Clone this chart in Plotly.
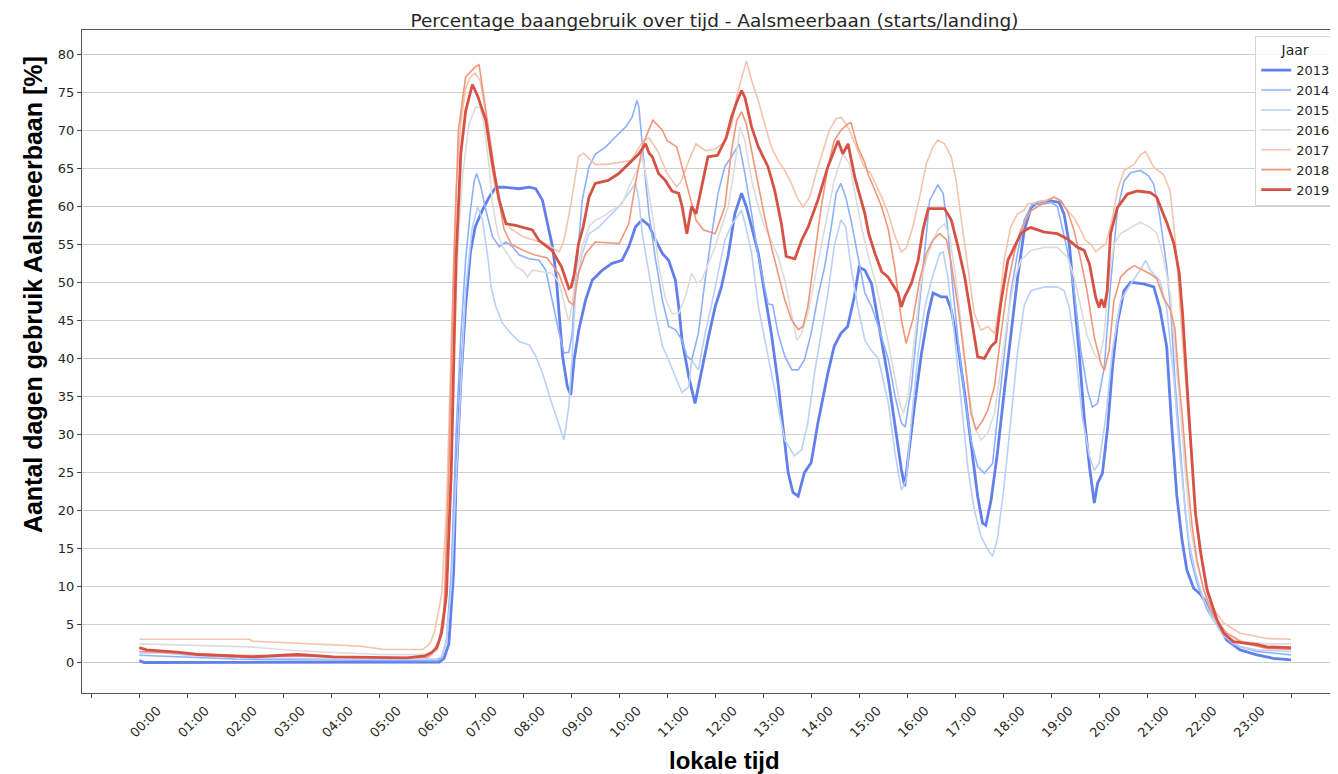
import plotly.graph_objects as go

# ---------------- data (hours since 00:00, percentage) ----------------
hours_2013 = [0, 0.1, 6.25, 6.35, 6.45, 6.55, 6.6, 6.7, 6.8, 6.9, 7.0, 7.15, 7.29, 7.43, 7.6, 7.92, 8.12, 8.26, 8.4, 8.5,
              8.61, 8.68, 8.75, 8.82, 8.92, 8.99, 9.06, 9.16, 9.3, 9.44, 9.65, 9.85, 10.06, 10.2, 10.34, 10.48, 10.62,
              10.76, 10.9, 11.03, 11.17, 11.24, 11.31, 11.45, 11.58, 11.72, 11.86, 12.0, 12.13, 12.27, 12.41, 12.55,
              12.65, 12.76, 12.9, 13.03, 13.17, 13.31, 13.41, 13.52, 13.62, 13.73, 13.86, 14.0, 14.14, 14.35, 14.48,
              14.62, 14.76, 14.9, 15.0, 15.12, 15.26, 15.35, 15.47, 15.61, 15.75, 15.88, 15.95, 16.02, 16.16, 16.3,
              16.44, 16.54, 16.71, 16.82, 16.92, 17.06, 17.2, 17.33, 17.47, 17.57, 17.64, 17.75, 17.88, 18.02, 18.16,
              18.3, 18.44, 18.58, 18.72, 19.0, 19.17, 19.27, 19.38, 19.48, 19.58, 19.69, 19.8, 19.9, 19.97, 20.07,
              20.18, 20.28, 20.38, 20.52, 20.66, 20.93, 21.14, 21.27, 21.41, 21.51, 21.62, 21.73, 21.83, 21.97, 22.1,
              22.25, 22.46, 22.66, 22.94, 23.29, 23.63, 24.0]
pct_2013 = [0.3, 0.05, 0.1, 0.6, 2.5, 12, 24, 37, 47, 54, 57.3, 59.5, 61.2, 62.5, 62.5, 62.3, 62.5, 62.3, 60.8, 57.7,
            54.7, 51.2, 46, 40.3, 36.3, 35.2, 39.8, 43.8, 47.7, 50.3, 51.6, 52.5, 52.9, 54.7, 57.3, 58.2, 57.5,
            55.5, 53.8, 52.9, 50.3, 46.8, 42.4, 37.6, 34.1, 38.5, 42.8, 46.8, 49.4, 53.5, 59, 61.7,
            59.9, 57.3, 53.8, 48.6, 43.3, 36.8, 31.5, 25, 22.4, 21.9, 25, 26.3, 31.5, 38.1, 41.6,
            43.3, 44.2, 48.1, 52, 51.6, 49.8, 46.5, 42.4, 37.2, 31.1, 25.4, 23.2, 27.1, 34.1, 40.7,
            45.9, 48.6, 48.1, 48.1, 46.4, 41.6, 35.4, 28.9, 21.9, 18.4, 18.1, 21.4, 27.5, 35.4, 42.9,
            50.5, 56.8, 59.8, 60.5, 60.7, 60.5, 59, 55, 48.5, 41.1, 32.3, 25.8, 21, 23.6, 24.9,
            31, 38.9, 44.6, 48.9, 50, 49.8, 49.4, 46.5, 41.5, 31.5, 22, 16.1, 12.2, 9.8, 9.1,
            7.8, 5.2, 3.0, 1.7, 1.05, 0.6, 0.4]

hours_2014 = [0, 1.0, 2.0, 3.0, 5.0, 6.2, 6.3, 6.4, 6.5, 6.6, 6.7, 6.8, 6.9, 6.98, 7.03, 7.12, 7.22, 7.36, 7.5, 7.64,
              7.77, 7.92, 8.12, 8.33, 8.47, 8.6, 8.75, 8.85, 8.95, 9.02, 9.09, 9.23, 9.37, 9.51, 9.72, 9.92, 10.13,
              10.27, 10.37, 10.41, 10.48, 10.55, 10.62, 10.76, 10.9, 11.03, 11.17, 11.31, 11.41, 11.51, 11.65, 11.79,
              11.93, 12.06, 12.2, 12.34, 12.5, 12.62, 12.76, 12.9, 13.1, 13.2, 13.31, 13.45, 13.6, 13.73, 13.86, 14.0,
              14.14, 14.28, 14.42, 14.52, 14.62, 14.72, 14.83, 14.97, 15.12, 15.26, 15.4, 15.61, 15.75, 15.88, 15.96,
              16.09, 16.23, 16.37, 16.47, 16.58, 16.64, 16.75, 16.85, 16.95, 17.06, 17.2, 17.33, 17.47, 17.61, 17.78,
              17.88, 18.02, 18.16, 18.3, 18.44, 18.6, 18.86, 19.0, 19.13, 19.34, 19.48, 19.62, 19.76, 19.86, 19.97,
              20.11, 20.24, 20.38, 20.52, 20.66, 20.86, 21.03, 21.14, 21.27, 21.41, 21.5, 21.58, 21.69, 21.8, 21.9,
              22.04, 22.25, 22.52, 22.8, 23.29, 24.0]
pct_2014 = [1.0, 0.8, 0.5, 0.4, 0.3, 0.3, 0.6, 3, 12, 30, 43, 53, 59.5, 63.4, 64.3, 62.5, 59.5, 56, 54.7, 55.3,
            54.7, 53.6, 53.1, 52.9, 51.6, 47.7, 43.3, 40.7, 40.8, 43.3, 50.3, 60.8, 65.2, 66.9, 67.8, 69.1, 70.4,
            71.7, 73.9, 73, 67.8, 63.4, 59, 52.9, 47.7, 44.2, 43.8, 42.4, 40.3, 39.8, 43.3, 50.3,
            56.4, 61.7, 65.2, 66.5, 68.2, 64.3, 59, 53.4, 47.2, 47, 43.3, 40.3, 38.5, 38.5, 39.8, 43.3,
            48.1, 52, 57.3, 61.7, 63, 61.2, 58.2, 53.8, 48.6, 46.8, 44.2, 39.8, 35, 31.5, 31,
            36.3, 45.1, 53.8, 60.8, 62.1, 62.8, 61.7, 56.9, 49.4, 42.4, 35, 29.3, 25.8, 24.9, 26.2,
            31.9, 40.7, 48.6, 53.8, 58.2, 60.2, 60.3, 60.5, 60, 54.2, 48.9, 41.1, 35.8, 33.6, 34.1,
            38.9, 49.8, 59.4, 63.3, 64.4, 64.7, 64, 62.9, 58.5, 52, 45.9, 37.2, 28.4, 19.6, 14,
            10.5, 7, 4.3, 2.4, 1.5, 1.05]

hours_2015 = [0, 0.5, 1.0, 2.0, 3.0, 4.0, 6.2, 6.3, 6.4, 6.5, 6.6, 6.7, 6.8, 6.94, 7.05, 7.15, 7.26, 7.33, 7.43, 7.57,
              7.74, 7.92, 8.12, 8.26, 8.4, 8.57, 8.71, 8.85, 8.95, 9.02, 9.09, 9.23, 9.37, 9.58, 9.78, 9.99, 10.2,
              10.34, 10.41, 10.48, 10.62, 10.76, 10.9, 11.03, 11.17, 11.31, 11.45, 11.51, 11.65, 11.79, 11.93, 12.06,
              12.2, 12.34, 12.55, 12.65, 12.76, 12.9, 13.03, 13.17, 13.31, 13.45, 13.65, 13.8, 13.93, 14.07, 14.21,
              14.35, 14.48, 14.62, 14.72, 14.83, 14.97, 15.12, 15.26, 15.4, 15.61, 15.75, 15.88, 15.98, 16.09, 16.23,
              16.37, 16.51, 16.68, 16.75, 16.85, 16.99, 17.13, 17.27, 17.4, 17.54, 17.68, 17.78, 17.88, 18.02, 18.16,
              18.3, 18.44, 18.58, 18.86, 19.13, 19.27, 19.38, 19.52, 19.65, 19.8, 19.9, 20.0, 20.14, 20.28, 20.45,
              20.66, 20.86, 20.97, 21.07, 21.27, 21.41, 21.56, 21.67, 21.77, 21.87, 22.01, 22.18, 22.39, 22.6, 22.94,
              23.29, 24.0]
pct_2015 = [1.3, 1.3, 1.0, 0.7, 0.6, 0.5, 0.5, 0.8, 3, 10, 24, 37, 49, 57.3, 59.9, 58.2, 53.4, 49.4, 46.8, 44.6,
            43.3, 42.2, 41.8, 40.3, 38.1, 34.6, 32, 29.3, 33.7, 40.3, 49, 53.8, 56.4, 57.3, 58.6, 59.9, 61.7,
            63, 60.8, 56.4, 51.2, 45.9, 41.6, 39.8, 37.6, 35.5, 36.3, 39.8, 38.5, 43.3, 47.2, 51.2,
            55.5, 57.5, 59.5, 57, 53.8, 46.8, 42.4, 38.1, 33.7, 29.3, 27.2, 28, 31.5, 38.1, 43.3,
            48.6, 54.7, 58.2, 57.3, 52, 46.8, 42.4, 41, 40, 34.1, 27.5, 22.7, 24, 31.9, 40.7,
            46.8, 50.3, 53.8, 54, 50.7, 42.9, 34.1, 25.4, 20.1, 16.6, 14.9, 14, 16.2, 23.2, 31.9,
            40.7, 47, 48.9, 49.4, 49.4, 48.9, 46.7, 40.2, 32.3, 27.1, 25.3, 26.2, 32.3, 41.1, 47.6,
            49.8, 51.6, 52.9, 51.6, 50.2, 46.5, 37.2, 28.4, 21.8, 16.1, 11.8, 8.3, 5.6, 3.5, 2.1,
            1.7, 1.5]

hours_2016 = [0, 0.93, 2.3, 3.3, 4.1, 5.0, 6.0, 6.2, 6.35, 6.45, 6.55, 6.65, 6.74, 6.87, 7.01, 7.1, 7.19, 7.29, 7.36,
              7.47, 7.57, 7.71, 7.85, 7.99, 8.09, 8.19, 8.4, 8.6, 8.75, 8.89, 8.95, 9.02, 9.09, 9.23, 9.37, 9.51, 9.65,
              9.85, 10.06, 10.2, 10.34, 10.48, 10.55, 10.69, 10.83, 10.97, 11.1, 11.24, 11.38, 11.51, 11.62, 11.72,
              11.86, 12.0, 12.13, 12.27, 12.4, 12.52, 12.62, 12.76, 12.9, 13.03, 13.17, 13.31, 13.45, 13.59, 13.7,
              13.8, 13.93, 14.07, 14.21, 14.35, 14.48, 14.66, 14.8, 14.9, 15.05, 15.19, 15.33, 15.54, 15.71, 15.85,
              15.92, 16.02, 16.16, 16.3, 16.44, 16.64, 16.78, 16.89, 17.02, 17.16, 17.27, 17.4, 17.54, 17.68, 17.82,
              17.95, 18.09, 18.23, 18.37, 18.58, 18.86, 19.13, 19.34, 19.48, 19.62, 19.76, 19.9, 20.0, 20.1, 20.21,
              20.31, 20.45, 20.66, 20.86, 21.07, 21.2, 21.34, 21.48, 21.58, 21.69, 21.8, 21.9, 22.04, 22.22, 22.42,
              22.66, 23.0, 23.5, 24.0]
pct_2016 = [2.5, 2.3, 2.1, 1.6, 1.35, 1.1, 1.1, 1.5, 5, 16, 40, 56, 64.3, 70.8, 73, 73, 70.4, 65.2, 60.3,
            56.4, 54.7, 53.4, 52, 51.6, 50.7, 51.6, 51.4, 51.2, 49.9, 46.5, 44.8, 47, 51.2, 54.7, 57.3, 58.2, 58.6,
            59.5, 60.3, 62.5, 64.3, 66.5, 64.3, 59, 52, 47.7, 45.9, 45.9, 48.1, 51.2, 49.9, 50.3,
            52.5, 54.7, 57.3, 59.9, 65, 70.4, 68.6, 63.4, 59.9, 57.3, 55.5, 53.4, 50.3, 45.9, 42.4,
            43.3, 45.9, 50.3, 54.7, 59, 63.4, 66.9, 65.6, 62.1, 57.3, 53.4, 50.3, 44.2, 38.5, 34.1,
            32.8, 35, 42.9, 50.7, 53.8, 56.9, 57.7, 56, 50.3, 42.9, 36.3, 31, 29.3, 30.2, 32.8,
            38.5, 45.1, 50.3, 52.9, 54.2, 54.6, 54.6, 53.3, 50.7, 46.7, 42.8, 40.6, 39.8, 42.8, 50.7,
            55, 56.4, 57.2, 57.9, 57.2, 56.5, 53.3, 48.5, 41.5, 32.8, 24.9, 17.9, 13.1, 8.7, 5.6,
            3.9, 2.8, 2.5, 2.5]

hours_2017 = [0, 2.3, 2.35, 3.3, 4.6, 5.1, 5.9, 6.05, 6.15, 6.3, 6.4, 6.5, 6.6, 6.7, 6.8, 6.9, 7.0, 7.1, 7.2, 7.3,
              7.4, 7.5, 7.6, 7.75, 8.0, 8.25, 8.5, 8.75, 8.85, 9.0, 9.15, 9.25, 9.5, 9.75, 10.0, 10.25, 10.5, 10.62,
              10.8, 11.0, 11.2, 11.3, 11.45, 11.6, 11.8, 12.0, 12.2, 12.34, 12.45, 12.55, 12.65, 12.76, 12.9, 13.03,
              13.17, 13.31, 13.45, 13.59, 13.7, 13.83, 13.97, 14.1, 14.24, 14.38, 14.52, 14.62, 14.73, 14.83, 14.97,
              15.1, 15.24, 15.38, 15.47, 15.61, 15.75, 15.88, 15.98, 16.12, 16.26, 16.4, 16.54, 16.64, 16.78, 16.92,
              17.02, 17.13, 17.27, 17.4, 17.54, 17.68, 17.82, 17.92, 18.02, 18.16, 18.3, 18.44, 18.51, 18.86, 19.06,
              19.2, 19.34, 19.48, 19.62, 19.72, 19.83, 19.93, 20.04, 20.14, 20.28, 20.38, 20.52, 20.73, 20.86, 20.97,
              21.14, 21.34, 21.48, 21.58, 21.65, 21.72, 21.83, 21.94, 22.04, 22.18, 22.35, 22.6, 22.94, 23.5, 24.0]
pct_2017 = [3.1, 3.1, 2.85, 2.55, 2.2, 1.75, 1.75, 2.5, 4, 9, 20, 42, 62, 71, 75.5, 77, 77.5, 76.5, 73, 67,
            63, 60.5, 58.5, 57, 56, 55.5, 55, 54, 55.5, 60.5, 66.5, 67, 65.5, 65.5, 65.7, 66, 68.6, 69,
            67.3, 64.3, 62.5, 63.4, 66, 68.2, 67.3, 67.5, 68.5, 70.5, 74.5, 77, 79.1, 76.5, 73.9, 70.8,
            67.8, 66, 64.7, 63, 61.2, 59.9, 61.2, 64.3, 67.3, 70, 71.5, 71.7, 70.8, 69.5, 67.3,
            65.2, 64.3, 62.5, 61.2, 59, 56, 54, 54.5, 57.3, 61.2, 65.6, 67.8, 68.7, 68.2, 66.5,
            63.4, 58.2, 51.6, 45.9, 43.7, 44.2, 43.3, 46.8, 52.9, 57.3, 59, 59.5, 60.3, 60.7, 61.2,
            60.8, 59.4, 58.5, 56.8, 55.5, 55, 54, 54.6, 55, 58.5, 62, 64.7, 65.5, 66.8, 67.2,
            65.1, 64.2, 62, 56, 50.3, 43.7, 35, 26.2, 17.5, 11.8, 7.4, 5.2, 3.9, 3.2, 3.1]

hours_2018 = [0, 1.0, 2.0, 3.0, 4.0, 5.0, 6.0, 6.1, 6.25, 6.35, 6.45, 6.55, 6.65, 6.8, 7.0, 7.08, 7.2, 7.35, 7.5, 7.6,
              7.75, 8.0, 8.25, 8.5, 8.75, 8.95, 9.05, 9.15, 9.3, 9.5, 9.75, 10.0, 10.2, 10.35, 10.5, 10.7, 10.9, 11.0,
              11.2, 11.35, 11.6, 11.75, 12.0, 12.2, 12.34, 12.45, 12.55, 12.65, 12.76, 12.9, 13.03, 13.17, 13.31,
              13.45, 13.59, 13.73, 13.83, 13.93, 14.07, 14.21, 14.35, 14.48, 14.62, 14.76, 14.83, 14.97, 15.1, 15.2,
              15.33, 15.47, 15.61, 15.75, 15.88, 15.98, 16.12, 16.26, 16.4, 16.54, 16.68, 16.82, 16.92, 17.06, 17.2,
              17.33, 17.44, 17.58, 17.68, 17.82, 17.95, 18.09, 18.23, 18.37, 18.51, 18.58, 18.86, 19.06, 19.2, 19.34,
              19.48, 19.62, 19.76, 19.9, 20.04, 20.11, 20.21, 20.31, 20.45, 20.59, 20.73, 20.93, 21.07, 21.2, 21.34,
              21.48, 21.58, 21.65, 21.73, 21.83, 21.94, 22.04, 22.18, 22.39, 22.66, 23.0, 23.5, 24.0]
pct_2018 = [1.5, 1.25, 1.0, 0.9, 0.8, 0.7, 0.7, 1.2, 3, 7, 25, 52, 70, 77, 78.3, 78.6, 73.5, 67, 60.5, 57,
            55, 54.2, 53.6, 53.2, 51, 47.5, 47, 51.2, 53.8, 55.3, 55.2, 55.1, 57.7, 63.4, 68.2, 71.3, 70, 68.6,
            67.8, 64.3, 58.2, 56.9, 56.4, 59.9, 67.3, 71.3, 72.4, 70.8, 67.3, 63, 58.6, 54.7, 51.2,
            47.7, 45.1, 43.8, 44.2, 46.8, 53.4, 59.9, 65.2, 68.6, 70, 70.8, 71, 67.8, 66, 64,
            62.1, 59.9, 56.9, 51.6, 45.1, 42, 45.1, 50.3, 53.8, 55.6, 56.4, 55.6, 52.5, 46.8, 39.8,
            32.8, 30.6, 31.9, 33.2, 36.3, 42.9, 49.4, 53.8, 56.9, 58.6, 59.4, 60.5, 61.2, 60.7, 59.4,
            56.8, 52.9, 48.5, 42.8, 39.3, 38.4, 41.1, 47.6, 50.7, 51.6, 52.2, 51.6, 51.1, 50.5, 48,
            46.5, 44, 38, 32.8, 24.9, 17.9, 13.5, 9.6, 6.1, 3.9, 2.6, 1.9, 1.75]

hours_2019 = [0, 0.15, 0.78, 1.22, 2.37, 3.3, 4.05, 5.57, 5.95, 6.1, 6.2, 6.3, 6.4, 6.5, 6.6, 6.7, 6.8, 6.94, 7.05,
              7.22, 7.36, 7.5, 7.64, 7.84, 8.19, 8.33, 8.6, 8.8, 8.95, 9.0, 9.06, 9.15, 9.25, 9.37, 9.5, 9.77, 9.99,
              10.2, 10.41, 10.55, 10.62, 10.69, 10.82, 10.96, 11.1, 11.24, 11.31, 11.41, 11.51, 11.6, 11.72, 11.85,
              12.05, 12.23, 12.34, 12.45, 12.55, 12.62, 12.76, 12.9, 13.1, 13.24, 13.38, 13.48, 13.66, 13.8, 13.94,
              14.14, 14.35, 14.56, 14.66, 14.77, 14.91, 15.12, 15.2, 15.33, 15.47, 15.6, 15.81, 15.88, 15.95, 16.09,
              16.23, 16.33, 16.44, 16.58, 16.78, 16.92, 17.06, 17.2, 17.33, 17.47, 17.61, 17.75, 17.85, 17.95, 18.1,
              18.23, 18.37, 18.5, 18.58, 18.86, 19.13, 19.34, 19.55, 19.69, 19.8, 19.93, 20.0, 20.05, 20.11, 20.17,
              20.24, 20.38, 20.59, 20.8, 21.07, 21.2, 21.34, 21.42, 21.56, 21.67, 21.74, 21.8, 21.87, 21.94, 22.01,
              22.12, 22.25, 22.46, 22.6, 22.8, 23.08, 23.3, 23.5, 24.0]
pct_2019 = [2.0, 1.7, 1.4, 1.1, 0.8, 1.1, 0.8, 0.65, 0.9, 1.4, 2, 4, 9, 25, 53, 67, 72.5, 76, 74.5,
            71.3, 65.5, 60.8, 57.7, 57.5, 56.9, 55.5, 54.2, 52, 49.2, 49.4, 51, 55, 57.3, 61.2, 63, 63.4, 64.3,
            65.6, 66.9, 68.2, 67, 66.5, 64.3, 63.4, 62, 61.7, 60, 56.4, 60, 59, 62.5, 66.5,
            66.7, 69, 71.7, 73.7, 75.2, 74.3, 70.4, 67.8, 65.2, 62.1, 57.7, 53.4, 53.1, 55.5, 57.3,
            60.8, 65.2, 68.6, 66.9, 68.2, 63.8, 59, 56.4, 53.8, 51.4, 50.7, 48.6, 46.8, 48.1, 49.9,
            52.9, 56.9, 59.7, 59.7, 59.7, 58.2, 54.7, 50.7, 45.9, 40.2, 40, 41.6, 42.2, 47.2, 52.9,
            54.7, 56.4, 57, 57.2, 56.6, 56.4, 55.7, 54.6, 54.2, 52.4, 48, 46.7, 47.8, 46.7, 48.9,
            56.4, 59.8, 61.6, 62, 61.8, 61.2, 59, 57.7, 55.1, 51.2, 45.9, 39.3, 32.8, 26.2, 19.6,
            14.4, 9.6, 5.6, 3.9, 2.8, 2.6, 2.4, 2.1, 2.0]

years = ["2013", "2014", "2015", "2016", "2017", "2018", "2019"]
tick_hours = list(range(-1, 25))
tick_labels = [""] + [f"{h:02d}:00" for h in range(24)] + [""]

# ---------------- styling ----------------
colors = ["#6180e9", "#8db0fe", "#b9d0f9", "#dddcdc", "#f5c4ac", "#f39577", "#d65244"]
widths = [2.8, 1.6, 1.6, 1.6, 1.6, 1.6, 2.8]
series = [(hours_2013, pct_2013), (hours_2014, pct_2014), (hours_2015, pct_2015), (hours_2016, pct_2016),
          (hours_2017, pct_2017), (hours_2018, pct_2018), (hours_2019, pct_2019)]

fig = go.Figure()
for yr, (hx, py), c, w in zip(years, series, colors, widths):
    fig.add_trace(go.Scatter(x=hx, y=py, mode="lines", name=yr,
                             line=dict(color=c, width=w)))

# the page body adds an 8px offset; figure coords = page coords - 8
W, H = 1330, 766
L, R, T, B = 74, 2, 22, 81
PW, PH = W - L - R, H - T - B

def px_x(page_x):
    return (page_x - 8 - L) / PW

def px_y(page_y):
    return (H - B - (page_y - 8)) / PH

fig.update_layout(
    width=W, height=H,
    margin=dict(l=L, r=R, t=T, b=B),
    plot_bgcolor="white", paper_bgcolor="white",
    font=dict(family="DejaVu Sans", size=12, color="#262626"),
    title=dict(text="Percentage baangebruik over tijd - Aalsmeerbaan (starts/landing)",
               x=px_x(716), xanchor="center", xref="paper", yref="container", y=1 - 13 / H,
               yanchor="middle",
               font=dict(family="DejaVu Sans", size=18.5, color="#262626")),
    legend=dict(title=dict(text="Jaar", side="top center", font=dict(size=14)),
                x=px_x(1258), y=px_y(36), xanchor="left", yanchor="top",
                bgcolor="rgba(255,255,255,0.85)", bordercolor="#d6d6d6", borderwidth=1,
                font=dict(family="DejaVu Sans", size=13, color="#262626"),
                itemwidth=30, tracegroupgap=0),
    showlegend=True,
)

fig.update_xaxes(
    range=[-1.195, 24.875], tickmode="array", tickvals=tick_hours, ticktext=tick_labels,
    tickangle=-45, ticks="outside", ticklen=4, tickcolor="#444", ticklabelshift=18,
    showgrid=False, zeroline=False, showline=True, linecolor="#555", linewidth=1, mirror=True,
    tickfont=dict(family="DejaVu Sans", size=13, color="#262626"),
)
fig.update_yaxes(
    range=[-3.96, 83.16], tickmode="linear", tick0=0, dtick=5,
    ticks="outside", ticklen=4, tickcolor="#444",
    showgrid=True, gridcolor="#d0d0d0", gridwidth=1, zeroline=False,
    showline=True, linecolor="#555", linewidth=1, mirror=True,
    tickfont=dict(family="DejaVu Sans", size=13, color="#262626"),
)

fig.add_annotation(text="<b>Aantal dagen gebruik Aalsmeerbaan [%]</b>", xref="paper", yref="paper",
                   x=px_x(33), y=px_y(295), xanchor="center", yanchor="middle",
                   textangle=-90, showarrow=False,
                   font=dict(family="Liberation Sans", size=25, color="black"))
fig.add_annotation(text="<b>lokale tijd</b>", xref="paper", yref="paper",
                   x=px_x(726), y=px_y(760), xanchor="center", yanchor="middle",
                   showarrow=False,
                   font=dict(family="Liberation Sans", size=24, color="black"))

fig.write_html("out.html")
